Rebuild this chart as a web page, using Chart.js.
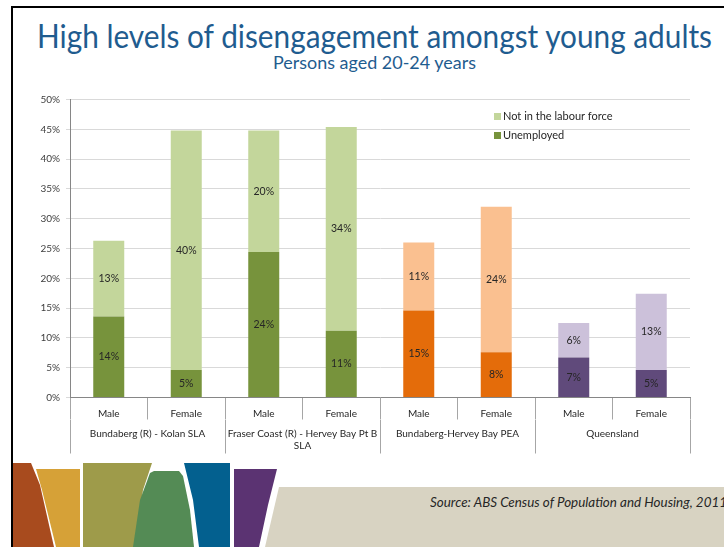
<!DOCTYPE html>
<html>
<head>
<meta charset="utf-8">
<script src="https://cdn.jsdelivr.net/npm/chart.js@4"></script>
<style>
  html, body { margin: 0; padding: 0; background: #fff; }
  body { width: 724px; height: 547px; position: relative; overflow: hidden; font-family: Lato, sans-serif; }
  .frame-top { position: absolute; left: 11px; top: 6px; width: 713px; height: 2px; background: #000; }
  .frame-left { position: absolute; left: 11px; top: 6px; width: 2px; height: 541px; background: #000; }
  .txt { position: absolute; white-space: nowrap; line-height: 1; transform-origin: 0 0; }
  #title { font-size: 32px; color: #1F5C8F; top: 20px; }
  #subtitle { font-size: 17px; color: #1F5C8F; top: 54px; }
  #source { font-size: 12.5px; font-style: italic; color: #262626; top: 497px; left: 430px; }
  #chartBox { position: absolute; left: 20px; top: 86px; width: 700px; height: 370px; }
  .shape { position: absolute; left: 0; top: 0; width: 724px; height: 547px; }
</style>
</head>
<body>
<div class="shape" style="background:#A84B1E; clip-path: polygon(13px 463px, 31px 463px, 40px 485px, 54px 547px, 13px 547px);"></div>
<div class="shape" style="background:#D6A137; clip-path: polygon(36px 469px, 80px 469px, 80px 547px, 56px 547px, 42px 490px);"></div>
<div class="shape" style="background:#9E9B4A; clip-path: polygon(83px 463px, 152px 463px, 143px 490px, 135px 547px, 83px 547px);"></div>
<div class="shape" style="background:#548B55; clip-path: polygon(150px 473px, 154px 471px, 179px 471px, 183px 476px, 190px 510px, 194px 547px, 133px 547px, 140px 500px);"></div>
<div class="shape" style="background:#03608F; clip-path: polygon(184px 463px, 230px 463px, 230px 547px, 199px 547px, 193px 500px);"></div>
<div class="shape" style="background:#5B3372; clip-path: polygon(234px 469px, 277px 469px, 268px 505px, 259px 547px, 234px 547px);"></div>
<div class="shape" style="background:#D8D3C2; clip-path: polygon(279px 487px, 724px 487px, 724px 547px, 265px 547px);"></div>
<div class="frame-top"></div>
<div class="frame-left"></div>
<div id="title" class="txt">High levels of disengagement amongst young adults</div>
<div id="subtitle" class="txt">Persons aged 20-24 years</div>
<div id="source" class="txt">Source: ABS Census of Population and Housing, 2011</div>
<div id="chartBox"><canvas id="chart"></canvas></div>
<script>
const categories = ['Male', 'Female', 'Male', 'Female', 'Male', 'Female', 'Male', 'Female'];
const groups = ['Bundaberg (R) - Kolan SLA', ['Fraser Coast (R) - Hervey Bay Pt B', 'SLA'], 'Bundaberg-Hervey Bay PEA', 'Queensland'];
const unemployed = [13.6, 4.6, 24.4, 11.2, 14.6, 7.6, 6.7, 4.6];
const notInLabourForce = [12.7, 40.2, 20.4, 34.2, 11.4, 24.4, 5.8, 12.8];
const yTicks = [0, 5, 10, 15, 20, 25, 30, 35, 40, 45, 50];

const darkColors = ['#77933C', '#77933C', '#77933C', '#77933C', '#E46C0A', '#E46C0A', '#604A7B', '#604A7B'];
const lightColors = ['#C3D69B', '#C3D69B', '#C3D69B', '#C3D69B', '#FAC090', '#FAC090', '#CCC1DA', '#CCC1DA'];

// squeeze the slide texts to the widths seen in the picture
function fitText(id, width, centerX) {
  const el = document.getElementById(id);
  const k = width / el.getBoundingClientRect().width;
  if (centerX != null) el.style.left = (centerX - width / 2) + 'px';
  el.style.transform = `scaleX(${k})`;
}

const barLabels = {
  id: 'barLabels',
  afterDatasetsDraw(chart) {
    const ctx = chart.ctx;
    ctx.save();
    ctx.font = '10.5px Lato';
    ctx.fillStyle = '#262626';
    ctx.textAlign = 'center';
    ctx.textBaseline = 'middle';
    chart.data.datasets.forEach((ds, i) => {
      chart.getDatasetMeta(i).data.forEach((bar, j) => {
        const { x, y, base } = bar.getProps(['x', 'y', 'base'], true);
        ctx.fillText(Math.round(ds.data[j]) + '%', x, (y + base) / 2);
      });
    });
    ctx.restore();
  }
};

// legend sits inside the plot, top right, only the green pair is shown
const innerLegend = {
  id: 'innerLegend',
  afterDraw(chart) {
    const ctx = chart.ctx, a = chart.chartArea;
    const items = [['Not in the labour force', lightColors[0]], ['Unemployed', darkColors[0]]];
    ctx.save();
    ctx.font = '11px Lato';
    ctx.textBaseline = 'middle';
    items.forEach(([txt, col], i) => {
      const y = a.top + 17 + i * 19;
      ctx.fillStyle = col;
      ctx.fillRect(a.left + 424, y - 3.5, 7, 7);
      ctx.fillStyle = '#262626';
      ctx.fillText(txt, a.left + 433, y);
    });
    ctx.restore();
  }
};

function draw() {
  fitText('title', 675, 374.5);
  fitText('subtitle', 203, 374.5);
  fitText('source', 297);

  new Chart(document.getElementById('chart'), {
    type: 'bar',
    data: {
      labels: categories,
      datasets: [
        { label: 'Unemployed', data: unemployed, backgroundColor: darkColors, categoryPercentage: 1, barPercentage: 0.4 },
        { label: 'Not in the labour force', data: notInLabourForce, backgroundColor: lightColors, categoryPercentage: 1, barPercentage: 0.4 }
      ]
    },
    options: {
      responsive: true,
      maintainAspectRatio: false,
      animation: false,
      layout: { padding: { top: 13.5, right: 30, bottom: 2.5, left: 0 } },
      plugins: { legend: { display: false }, tooltip: { enabled: false } },
      scales: {
        x: {
          stacked: true,
          offset: true,
          grid: { display: true, drawOnChartArea: false, offset: true, tickLength: 22, color: '#A6A6A6' },
          border: { color: '#868686' },
          ticks: { padding: -12, font: { family: 'Lato', size: 10 }, color: '#262626', maxRotation: 0, autoSkip: false },
          afterFit: s => { s.height = 22; }
        },
        x2: {
          type: 'category',
          position: 'bottom',
          labels: groups,
          offset: true,
          grid: { display: true, drawOnChartArea: false, offset: true, tickLength: 34, color: '#A6A6A6' },
          border: { display: false },
          ticks: { padding: -26, font: { family: 'Lato', size: 10 }, color: '#262626', maxRotation: 0, autoSkip: false },
          afterFit: s => { s.height = 34; }
        },
        y: {
          stacked: true,
          min: 0,
          max: 50,
          afterBuildTicks: s => { s.ticks = yTicks.map(v => ({ value: v })); },
          grid: { color: '#D9D9D9', tickLength: 4 },
          border: { color: '#868686' },
          ticks: { padding: 6, font: { family: 'Lato', size: 10 }, color: '#404040', callback: v => v + '%' },
          afterFit: s => { s.width = 50; }
        }
      }
    },
    plugins: [barLabels, innerLegend]
  });
}

document.fonts.load('32px Lato').then(() => document.fonts.load('italic 12px Lato')).then(draw, draw);
</script>
</body>
</html>
